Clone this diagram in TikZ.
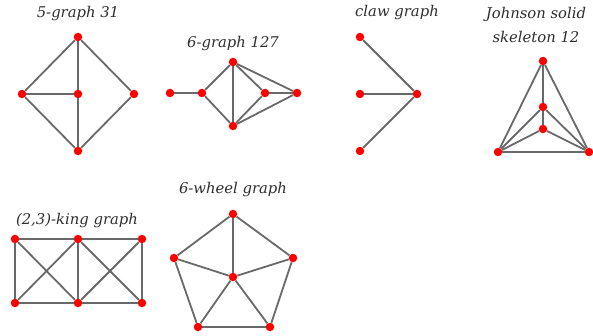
\documentclass[tikz,border=0pt]{standalone}
\usepackage{fontspec}
\setmainfont{DejaVu Serif}
\definecolor{vertexred}{HTML}{FF0000}
\definecolor{edgegray}{HTML}{696969}
\definecolor{titlegray}{HTML}{2E2E2E}
\tikzset{
  vtx/.style={circle,fill=vertexred,inner sep=0pt,minimum size=8.5pt},
  edge/.style={draw=edgegray,line width=1.8pt},
  gtitle/.style={font=\itshape\fontsize{14.8}{23.5}\selectfont,text=titlegray,align=center}
}

\begin{document}
\begin{tikzpicture}[x=1pt,y=-1pt]
  \useasboundingbox (0,0) rectangle (593,336);
  % titles
  \node[gtitle] (t1) at (78,14) {5-graph 31};
  \node[gtitle] (t2) at (233,44) {6-graph 127};
  \node[gtitle] (t3) at (397,13) {claw graph};
  \node[gtitle] (t4) at (536,25) {Johnson solid\\skeleton 12};
  \node[gtitle] (t5) at (77,221) {(2,3)-king graph};
  \node[gtitle] (t6) at (233,190) {6-wheel graph};

  % 5-graph 31
  \foreach \x/\y/\n in {78/37/a1,22/94/a2,78/94/a3,134/94/a4,78/151/a5}
    \node[vtx] (\n) at (\x,\y) {};
  \foreach \u/\v in {a1/a2,a1/a3,a1/a4,a2/a3,a2/a5,a3/a5,a4/a5}
    \draw[edge] (\u) -- (\v);

  % 6-graph 127
  \foreach \x/\y/\n in {170/93/b1,202/93/b2,233/62/b3,233/126/b4,265/93/b5,297/93/b6}
    \node[vtx] (\n) at (\x,\y) {};
  \foreach \u/\v in {b1/b2,b2/b3,b2/b4,b3/b4,b3/b5,b3/b6,b5/b6,b4/b5,b4/b6}
    \draw[edge] (\u) -- (\v);

  % claw graph
  \foreach \x/\y/\n in {360/37/c1,360/94/c2,360/151/c3,417/94/c4}
    \node[vtx] (\n) at (\x,\y) {};
  \foreach \u in {c1,c2,c3}
    \draw[edge] (\u) -- (c4);

  % Johnson solid skeleton 12
  \foreach \x/\y/\n in {543/61/d1,543/107/d2,543/129/d3,498/152/d4,589/152/d5}
    \node[vtx] (\n) at (\x,\y) {};
  \foreach \u/\v in {d1/d4,d1/d5,d1/d2,d2/d3,d2/d4,d2/d5,d3/d4,d3/d5,d4/d5}
    \draw[edge] (\u) -- (\v);

  % (2,3)-king graph
  \foreach \x/\y/\n in {15/239/e1,78/239/e2,142/239/e3,15/303/e4,78/303/e5,142/303/e6}
    \node[vtx] (\n) at (\x,\y) {};
  \foreach \u/\v in {e1/e2,e2/e3,e4/e5,e5/e6,e1/e4,e2/e5,e3/e6,e1/e5,e2/e4,e2/e6,e3/e5}
    \draw[edge] (\u) -- (\v);

  % 6-wheel graph
  \foreach \x/\y/\n in {233/214/f1,293/258/f2,270/327/f3,198/327/f4,174/258/f5,233/277/f6}
    \node[vtx] (\n) at (\x,\y) {};
  \foreach \u/\v in {f1/f2,f2/f3,f3/f4,f4/f5,f5/f1}
    \draw[edge] (\u) -- (\v);
  \foreach \u in {f1,f2,f3,f4,f5}
    \draw[edge] (\u) -- (f6);
\end{tikzpicture}
\end{document}
